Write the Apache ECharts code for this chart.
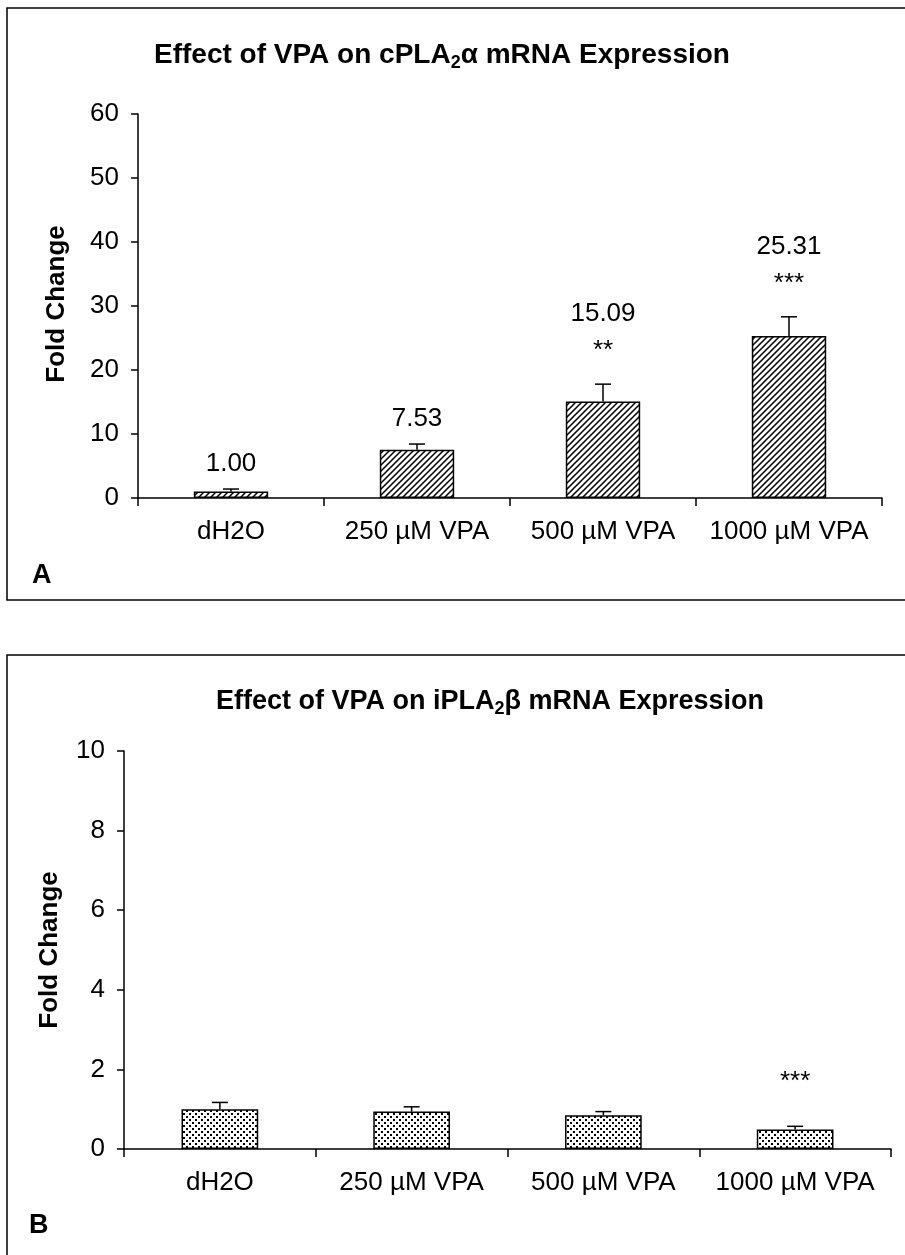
<!DOCTYPE html>
<html><head><meta charset="utf-8">
<script src="https://cdn.jsdelivr.net/npm/echarts@6/dist/echarts.min.js"></script>
<style>html,body{margin:0;padding:0;background:#fff}#c{width:905px;height:1255px}</style>
</head><body><div id="c"></div>
<script>
// ---- data ----
const categories = ['dH2O', '250 µM VPA', '500 µM VPA', '1000 µM VPA'];
const valuesA = [1.00, 7.53, 15.09, 25.31];
const errorsA = [0.4, 0.9, 2.7, 3.0];
const labelsA = ['1.00', '7.53', '15.09', '25.31'];
const starsA = ['', '', '**', '***'];
const valuesB = [1.00, 0.94, 0.85, 0.49];
const errorsB = [0.17, 0.12, 0.09, 0.08];
const labelsB = ['', '', '', ''];
const starsB = ['', '', '', '***'];
const yTicksA = [0, 10, 20, 30, 40, 50, 60];
const yTicksB = [0, 2, 4, 6, 8, 10];

const FONT = '"Liberation Sans", Arial, Helvetica, sans-serif';

function hatchPattern() {
  const c = document.createElement('canvas'); c.width = 6; c.height = 6;
  const g = c.getContext('2d');
  g.fillStyle = '#fff'; g.fillRect(0, 0, 6, 6);
  g.strokeStyle = '#000'; g.lineWidth = 1.5;
  g.beginPath();
  g.moveTo(-1, 7); g.lineTo(7, -1);
  g.moveTo(-1, 1); g.lineTo(1, -1);
  g.moveTo(5, 7); g.lineTo(7, 5);
  g.stroke();
  return c;
}
function dotPattern() {
  const c = document.createElement('canvas'); c.width = 6; c.height = 6;
  const g = c.getContext('2d');
  g.fillStyle = '#fff'; g.fillRect(0, 0, 6, 6);
  g.fillStyle = '#000';
  g.fillRect(0, 0, 2, 2); g.fillRect(3, 3, 2, 2);
  return c;
}

function axisPair(gi, ticks) {
  const line = { show: true, lineStyle: { color: '#000', width: 1.5 } };
  return {
    x: {
      type: 'category', gridIndex: gi, data: categories,
      axisLine: line,
      axisTick: { show: true, length: 8, interval: 0, alignWithLabel: false, lineStyle: { color: '#000', width: 1.5 } },
      axisLabel: { color: '#000', fontSize: 26, fontFamily: FONT, margin: 21, interval: 0, hideOverlap: false }
    },
    y: {
      type: 'value', gridIndex: gi, min: ticks[0], max: ticks[ticks.length - 1],
      interval: ticks[1] - ticks[0],
      axisLine: line,
      axisTick: { show: true, length: 7, lineStyle: { color: '#000', width: 1.5 } },
      splitLine: { show: false },
      axisLabel: { color: '#000', fontSize: 26, fontFamily: FONT, margin: 19 }
    }
  };
}
const axA = axisPair(0, yTicksA);
const axB = axisPair(1, yTicksB);

function barSeries(gi, vals, pattern) {
  return {
    type: 'bar', xAxisIndex: gi, yAxisIndex: gi, data: vals, barWidth: '40%',
    itemStyle: { color: { image: pattern, repeat: 'repeat' }, borderColor: '#000', borderWidth: 1.5 },
    silent: true, z: 2
  };
}
function errSeries(gi, vals, errs) {
  return {
    type: 'custom', xAxisIndex: gi, yAxisIndex: gi, z: 5, silent: true,
    data: vals.map((v, i) => [i, v, v + errs[i]]),
    encode: { x: 0, y: [1, 2] },
    renderItem: function (params, api) {
      const x = api.value(0);
      const p0 = api.coord([x, api.value(1)]);
      const p1 = api.coord([x, api.value(2)]);
      const hw = 8;
      return {
        type: 'group', children: [
          { type: 'line', shape: { x1: p0[0], y1: p0[1], x2: p1[0], y2: p1[1] }, style: { stroke: '#000', lineWidth: 1.5 } },
          { type: 'line', shape: { x1: p1[0] - hw, y1: p1[1], x2: p1[0] + hw, y2: p1[1] }, style: { stroke: '#000', lineWidth: 1.5 } }
        ]
      };
    }
  };
}
function labelSeries(gi, vals, errs, labels, stars, starOff, labOffStar, labOff) {
  return {
    type: 'custom', xAxisIndex: gi, yAxisIndex: gi, z: 6, silent: true,
    data: vals.map((v, i) => [i, v + errs[i]]),
    encode: { x: 0, y: 1 },
    renderItem: function (params, api) {
      const i = params.dataIndex;
      const p = api.coord([api.value(0), api.value(1)]);
      const ch = [];
      if (stars[i]) ch.push({ type: 'text', x: p[0], y: p[1] - starOff,
        style: { text: stars[i], font: '26px ' + FONT, fill: '#000', align: 'center', verticalAlign: 'middle' } });
      if (labels[i]) ch.push({ type: 'text', x: p[0], y: p[1] - (stars[i] ? labOffStar : labOff),
        style: { text: labels[i], font: '26px ' + FONT, fill: '#000', align: 'center', verticalAlign: 'middle' } });
      return { type: 'group', children: ch };
    }
  };
}

function titleRich(size) {
  return {
    b: { fontSize: size, fontWeight: 'bold', fontFamily: FONT, color: '#000' },
    s: { fontSize: Math.round(size * 0.65), fontWeight: 'bold', fontFamily: FONT, color: '#000', verticalAlign: 'bottom', padding: [Math.round(size * 0.55), 0, 0, 0] }
  };
}

const chart = echarts.init(document.getElementById('c'), null, { renderer: 'canvas' });
chart.setOption({
  backgroundColor: '#fff',
  animation: false,
  title: [
    { text: '{b|Effect of VPA on cPLA}{s|2}{b|α mRNA Expression}', left: 437, top: 34, textAlign: 'center',
      textStyle: { rich: titleRich(28) } },
    { text: '{b|Effect of VPA on iPLA}{s|2}{b|β mRNA Expression}', left: 485, top: 680, textAlign: 'center',
      textStyle: { rich: titleRich(27) } }
  ],
  grid: [
    { left: 138, right: 23, top: 114, height: 384 },
    { left: 124, right: 14, top: 751, height: 398 }
  ],
  xAxis: [axA.x, axB.x],
  yAxis: [axA.y, axB.y],
  series: [
    barSeries(0, valuesA, hatchPattern()),
    errSeries(0, valuesA, errorsA),
    labelSeries(0, valuesA, errorsA, labelsA, starsA, 33, 70, 25),
    barSeries(1, valuesB, dotPattern()),
    errSeries(1, valuesB, errorsB),
    labelSeries(1, valuesB, errorsB, labelsB, starsB, 44, 80, 25)
  ],
  graphic: [
    { type: 'rect', shape: { x: 7, y: 8, width: 920, height: 592 }, style: { fill: 'none', stroke: '#000', lineWidth: 1.5 }, silent: true },
    { type: 'rect', shape: { x: 7, y: 655, width: 920, height: 640 }, style: { fill: 'none', stroke: '#000', lineWidth: 1.5 }, silent: true },
    { type: 'text', x: 32, y: 576, style: { text: 'A', font: 'bold 27px ' + FONT, fill: '#000', verticalAlign: 'middle' } },
    { type: 'text', x: 29, y: 1226, style: { text: 'B', font: 'bold 27px ' + FONT, fill: '#000', verticalAlign: 'middle' } },
    { type: 'text', x: 57, y: 304, rotation: Math.PI / 2, style: { text: 'Fold Change', font: 'bold 26px ' + FONT, fill: '#000', align: 'center', verticalAlign: 'middle' } },
    { type: 'text', x: 50, y: 950, rotation: Math.PI / 2, style: { text: 'Fold Change', font: 'bold 26px ' + FONT, fill: '#000', align: 'center', verticalAlign: 'middle' } }
  ]
});
</script>
</body></html>
